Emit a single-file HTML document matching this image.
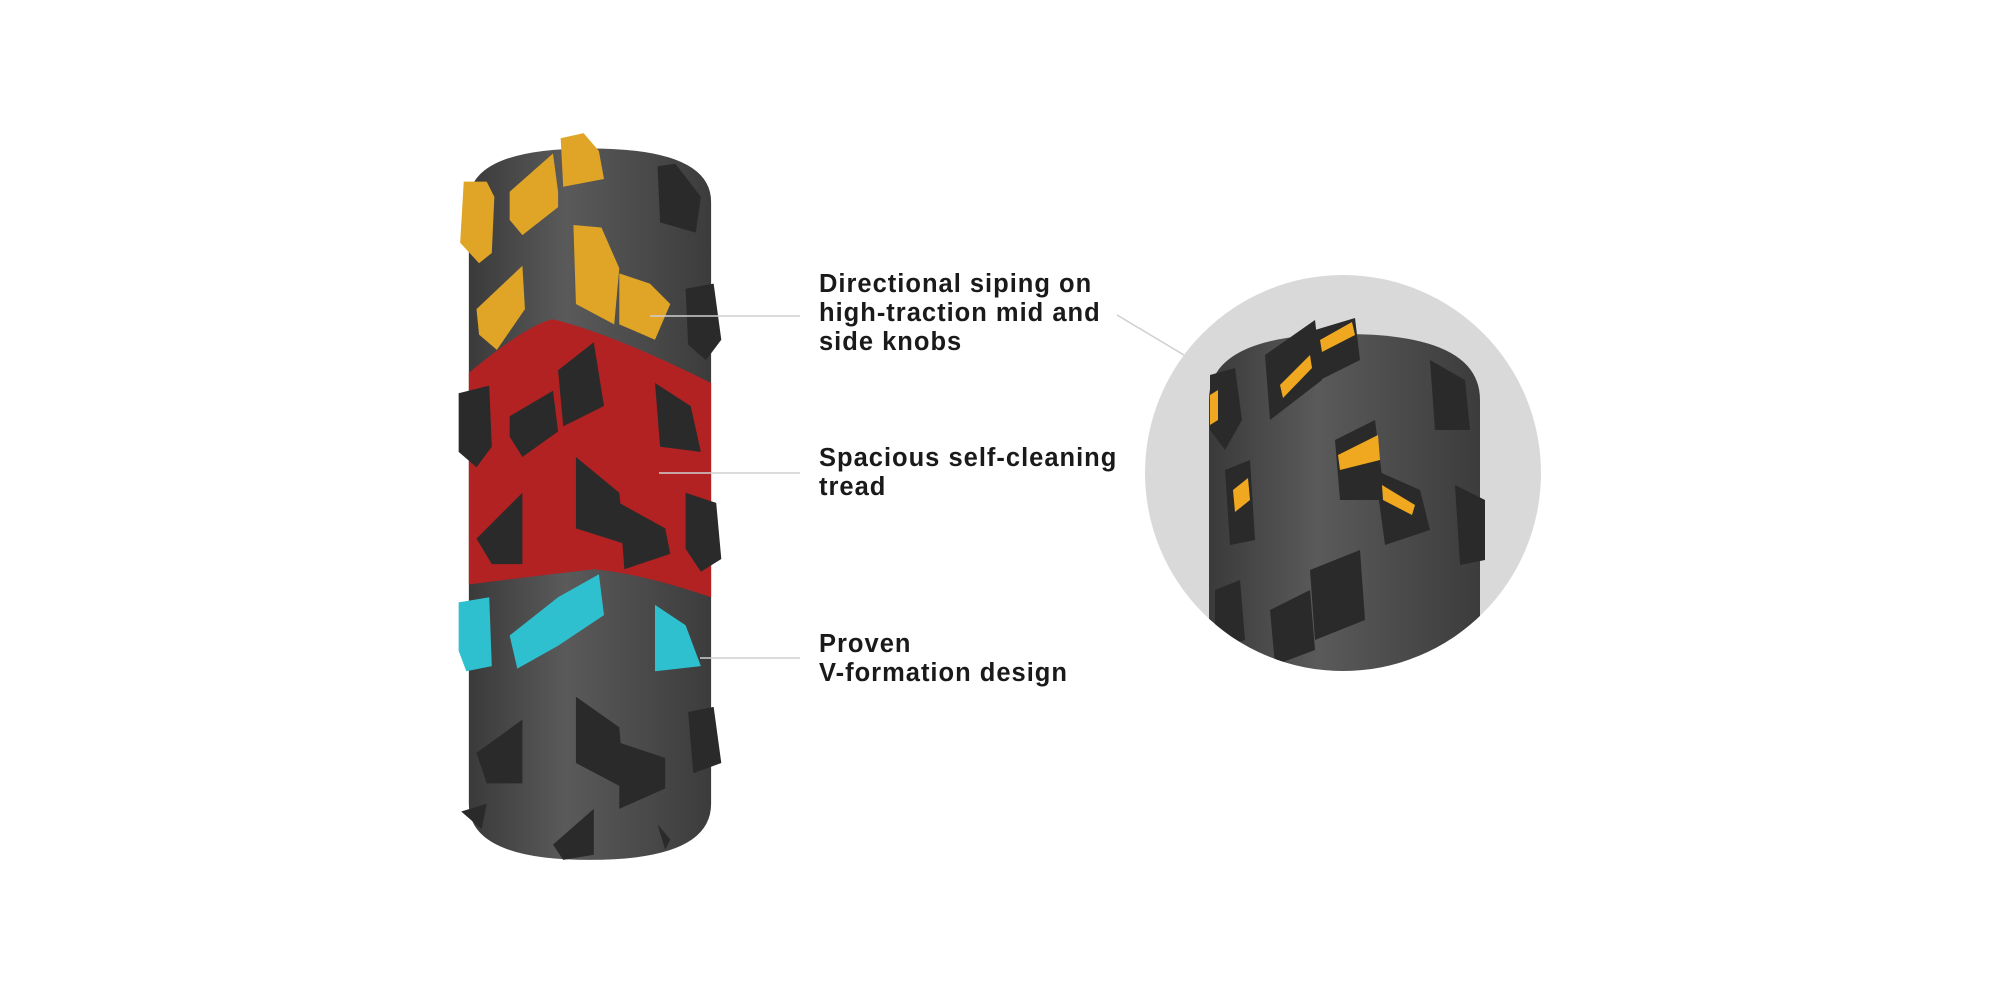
<!DOCTYPE html>
<html><head><meta charset="utf-8"><style>
html,body{margin:0;padding:0;background:#fff;width:2000px;height:1000px;overflow:hidden}
.t{position:absolute;font-family:"Liberation Sans",sans-serif;font-weight:bold;font-size:25.5px;color:#1a1a1a;line-height:29px;letter-spacing:1px}
</style></head><body>
<svg width="2000" height="1000" style="position:absolute;left:0;top:0">
<defs>
<linearGradient id="tg" x1="0" x2="1" y1="0" y2="0">
<stop offset="0" stop-color="#3a3a3a"/><stop offset="0.4" stop-color="#5a5a5a"/><stop offset="1" stop-color="#3c3c3c"/></linearGradient>
<clipPath id="cc"><circle cx="1343" cy="473" r="198"/></clipPath>
</defs>
<g transform="translate(400,100) scale(0.51)">
<path d="M135,200 Q135,95 372,95 Q610,95 610,200 L610,1380 Q610,1490 372,1490 Q135,1490 135,1380 Z" fill="url(#tg)"/>
<path d="M135,535 Q250,440 300,430 Q420,460 610,555 L610,975 Q480,930 380,920 Q250,935 135,950 Z" fill="#b32222"/>
<g fill="#e0a526">
<polygon points="125,160 170,160 185,190 180,300 155,320 118,280"/>
<polygon points="215,180 300,105 310,180 310,210 240,265 215,235"/>
<polygon points="315,75 360,65 390,100 400,155 320,170"/>
<polygon points="340,245 395,250 430,330 420,440 345,400"/>
<polygon points="430,340 490,360 530,400 500,470 430,440"/>
<polygon points="150,410 240,325 245,410 190,490 155,460"/>
</g>
<g fill="#2a2a2a">
<polygon points="505,130 540,125 590,190 580,260 510,240"/>
<polygon points="560,370 615,360 630,470 600,510 565,480"/>
<polygon points="310,530 380,475 400,600 320,640"/>
<polygon points="215,620 300,570 310,650 240,700 215,660"/>
<polygon points="500,555 570,600 590,690 510,680"/>
<polygon points="115,575 175,560 180,680 150,720 115,690"/>
<polygon points="345,700 430,770 440,870 345,840"/>
<polygon points="430,790 520,840 530,890 440,920"/>
<polygon points="150,860 240,770 240,910 180,910"/>
<polygon points="560,770 620,790 630,900 590,925 560,880"/>
<polygon points="150,1280 240,1215 240,1340 170,1340"/>
<polygon points="345,1170 430,1230 440,1350 345,1300"/>
<polygon points="430,1260 520,1290 520,1350 430,1390"/>
<polygon points="565,1200 615,1190 630,1300 575,1320"/>
<polygon points="120,1395 170,1380 160,1430"/>
<polygon points="300,1460 380,1390 380,1480 320,1490"/>
<polygon points="505,1420 530,1450 520,1470"/>
</g>
<g fill="#2fc0cf">
<polygon points="115,985 175,975 180,1110 130,1120 115,1080"/>
<polygon points="215,1050 310,975 390,930 400,1010 310,1070 230,1115"/>
<polygon points="500,990 560,1030 590,1110 500,1120"/>
</g>
</g>
<g stroke="#cfcfcf" stroke-width="1.5">
<line x1="650" y1="316" x2="800" y2="316"/>
<line x1="659" y1="473" x2="800" y2="473"/>
<line x1="700" y1="658" x2="800" y2="658"/>
<line x1="1117" y1="315" x2="1184" y2="355"/>
</g>
<circle cx="1343" cy="473" r="198" fill="#d9d9d9"/>
<g clip-path="url(#cc)">
<path d="M1209,400 Q1209,334 1345,334 Q1480,334 1480,400 L1480,700 L1209,700 Z" fill="url(#tg)"/>
<g fill="#2a2a2a">
<polygon points="1210,375 1235,368 1242,420 1225,450 1210,430"/>
<polygon points="1265,355 1315,320 1322,380 1270,420"/>
<polygon points="1315,330 1355,318 1360,360 1320,380"/>
<polygon points="1335,440 1375,420 1385,500 1340,500"/>
<polygon points="1375,470 1420,490 1430,530 1385,545"/>
<polygon points="1430,360 1465,380 1470,430 1435,430"/>
<polygon points="1225,470 1250,460 1255,540 1230,545"/>
<polygon points="1310,570 1360,550 1365,620 1315,640"/>
<polygon points="1270,610 1310,590 1315,650 1275,665"/>
<polygon points="1455,485 1485,500 1485,560 1460,565"/>
<polygon points="1215,590 1240,580 1245,640 1215,650"/>
</g>
<g fill="#f0a820">
<polygon points="1280,385 1310,355 1312,368 1283,398"/>
<polygon points="1320,340 1352,322 1355,335 1322,352"/>
<polygon points="1338,455 1378,435 1380,460 1340,470"/>
<polygon points="1382,485 1415,505 1412,515 1383,500"/>
<polygon points="1233,490 1248,478 1250,500 1235,512"/>
<polygon points="1210,395 1218,390 1218,420 1210,425"/>
</g>
</g>
</svg>
<div class="t" style="left:819px;top:270px">Directional siping on<br>high-traction mid and<br>side knobs</div>
<div class="t" style="left:819px;top:444px">Spacious self-cleaning<br>tread</div>
<div class="t" style="left:819px;top:630px">Proven<br>V-formation design</div>
</body></html>
